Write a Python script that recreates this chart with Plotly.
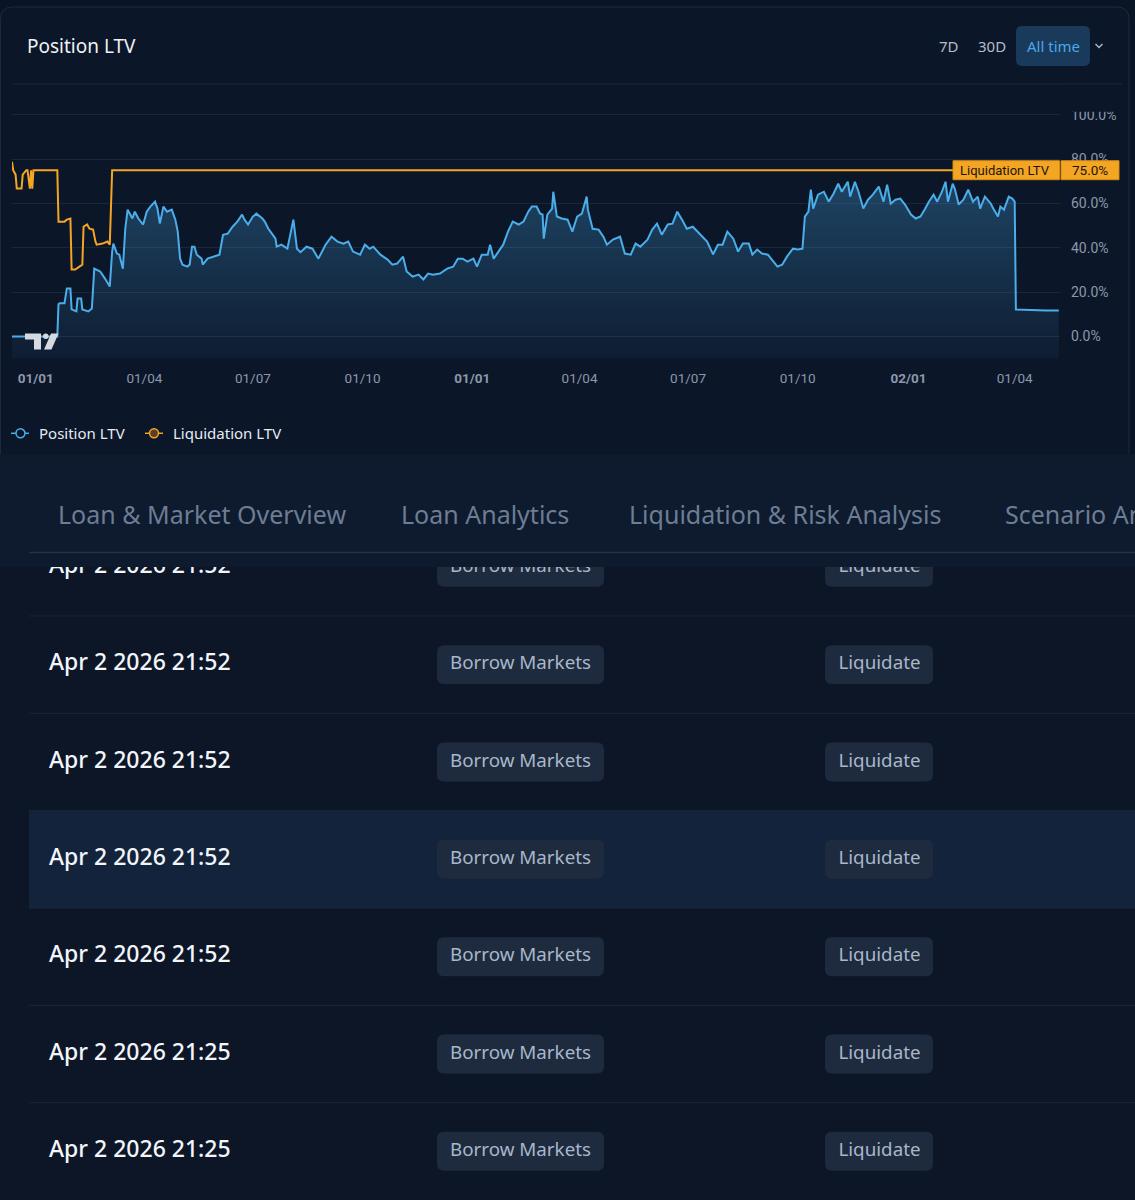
import plotly.graph_objects as go

W, H = 1135, 1200


def X(p):
    return p / W


def Y(p):
    return 1 - p / H


# ---------------- data ----------------
series_names = ["Position LTV", "Liquidation LTV"]

pos_dates = [
    "2023-12-12", "2024-01-19", "2024-01-20", "2024-01-21", "2024-01-25", "2024-01-27", "2024-01-30", "2024-01-31", "2024-02-04", "2024-02-05",
    "2024-02-08", "2024-02-09", "2024-02-14", "2024-02-17", "2024-02-19", "2024-02-24", "2024-02-28", "2024-03-03", "2024-03-05", "2024-03-06",
    "2024-03-09", "2024-03-11", "2024-03-14", "2024-03-16", "2024-03-18", "2024-03-22", "2024-03-24", "2024-03-27", "2024-03-31", "2024-04-03",
    "2024-04-06", "2024-04-10", "2024-04-12", "2024-04-14", "2024-04-17", "2024-04-20", "2024-04-24", "2024-04-27", "2024-04-29", "2024-05-01",
    "2024-05-03", "2024-05-07", "2024-05-09", "2024-05-11", "2024-05-13", "2024-05-15", "2024-05-19", "2024-05-20", "2024-05-24", "2024-05-29",
    "2024-06-03", "2024-06-06", "2024-06-10", "2024-06-14", "2024-06-18", "2024-06-22", "2024-06-24", "2024-06-27", "2024-07-01", "2024-07-04",
    "2024-07-09", "2024-07-11", "2024-07-14", "2024-07-17", "2024-07-20", "2024-07-21", "2024-07-25", "2024-07-30", "2024-08-04", "2024-08-07",
    "2024-08-10", "2024-08-15", "2024-08-20", "2024-08-25", "2024-08-31", "2024-09-05", "2024-09-10", "2024-09-15", "2024-09-19", "2024-09-23",
    "2024-09-29", "2024-10-03", "2024-10-07", "2024-10-10", "2024-10-16", "2024-10-22", "2024-10-26", "2024-10-30", "2024-11-04", "2024-11-07",
    "2024-11-12", "2024-11-17", "2024-11-21", "2024-11-25", "2024-11-29", "2024-12-05", "2024-12-11", "2024-12-16", "2024-12-20", "2024-12-24",
    "2024-12-28", "2025-01-02", "2025-01-05", "2025-01-09", "2025-01-14", "2025-01-16", "2025-01-19", "2025-01-23", "2025-01-27", "2025-01-31",
    "2025-02-04", "2025-02-09", "2025-02-13", "2025-02-17", "2025-02-20", "2025-02-24", "2025-02-27", "2025-03-01", "2025-03-02", "2025-03-05",
    "2025-03-09", "2025-03-10", "2025-03-13", "2025-03-17", "2025-03-22", "2025-03-26", "2025-03-30", "2025-04-03", "2025-04-07", "2025-04-08",
    "2025-04-12", "2025-04-17", "2025-04-21", "2025-04-24", "2025-04-29", "2025-05-05", "2025-05-09", "2025-05-14", "2025-05-18", "2025-05-22",
    "2025-05-28", "2025-06-01", "2025-06-05", "2025-06-09", "2025-06-14", "2025-06-18", "2025-06-22", "2025-06-26", "2025-06-30", "2025-07-05",
    "2025-07-11", "2025-07-17", "2025-07-22", "2025-07-26", "2025-07-30", "2025-08-03", "2025-08-08", "2025-08-12", "2025-08-16", "2025-08-21",
    "2025-08-24", "2025-08-28", "2025-09-01", "2025-09-06", "2025-09-10", "2025-09-14", "2025-09-18", "2025-09-22", "2025-09-27", "2025-10-01",
    "2025-10-05", "2025-10-07", "2025-10-10", "2025-10-12", "2025-10-14", "2025-10-18", "2025-10-23", "2025-10-27", "2025-10-31", "2025-11-04",
    "2025-11-07", "2025-11-12", "2025-11-14", "2025-11-18", "2025-11-21", "2025-11-25", "2025-11-29", "2025-12-03", "2025-12-08", "2025-12-12",
    "2025-12-15", "2025-12-18", "2025-12-22", "2025-12-26", "2025-12-30", "2026-01-04", "2026-01-08", "2026-01-12", "2026-01-16", "2026-01-19",
    "2026-01-23", "2026-01-26", "2026-01-30", "2026-02-02", "2026-02-04", "2026-02-08", "2026-02-10", "2026-02-13", "2026-02-17", "2026-02-21",
    "2026-02-25", "2026-03-01", "2026-03-03", "2026-03-07", "2026-03-12", "2026-03-14", "2026-03-18", "2026-03-20", "2026-03-23", "2026-03-27",
    "2026-03-30", "2026-04-01", "2026-04-02", "2026-04-14", "2026-04-27", "2026-05-08",
]
pos_ltv = [
    0.0, 0.0, 14.5, 15.0, 15.0, 21.6, 21.6, 12.2, 11.3, 17.1,
    17.1, 12.2, 11.3, 12.6, 30.6, 29.3, 26.1, 22.5, 38.3, 41.9,
    37.4, 36.9, 30.6, 48.6, 57.2, 53.2, 56.3, 53.2, 50.5, 56.3,
    58.6, 60.8, 57.7, 50.9, 58.6, 56.3, 57.2, 52.7, 47.3, 35.1,
    32.4, 31.5, 32.4, 40.5, 40.5, 36.9, 35.1, 32.4, 35.1, 36.0,
    36.9, 45.9, 46.4, 49.5, 51.8, 55.0, 52.7, 50.5, 54.1, 55.4,
    53.2, 51.8, 48.6, 46.4, 44.1, 40.5, 41.4, 39.6, 52.7, 39.6,
    38.0, 40.5, 39.6, 35.1, 41.4, 45.0, 42.8, 41.9, 42.8, 38.3,
    36.9, 41.4, 39.6, 40.5, 36.9, 34.7, 32.4, 32.9, 36.0, 29.3,
    27.0, 27.9, 25.7, 28.4, 27.9, 28.4, 30.6, 31.5, 35.1, 35.1,
    33.8, 35.1, 31.5, 36.9, 36.9, 41.4, 35.1, 38.3, 41.4, 47.3,
    51.8, 50.5, 51.8, 56.3, 58.6, 58.6, 55.4, 55.0, 44.1, 55.0,
    57.7, 65.3, 54.1, 53.2, 52.7, 47.3, 54.1, 55.4, 63.1, 57.2,
    48.6, 48.2, 45.0, 41.4, 43.7, 45.0, 37.4, 36.9, 41.9, 40.5,
    43.7, 48.2, 50.9, 45.9, 50.5, 50.9, 56.3, 52.7, 48.6, 49.5,
    45.9, 42.8, 37.0, 41.4, 41.4, 47.3, 44.1, 38.3, 41.9, 41.9,
    36.9, 39.2, 37.4, 36.9, 34.2, 31.5, 32.4, 36.0, 39.6, 39.2,
    39.6, 54.1, 56.3, 66.2, 57.7, 64.0, 65.3, 60.8, 64.4, 68.9,
    65.3, 69.8, 63.1, 69.8, 65.3, 57.7, 61.7, 64.0, 67.6, 60.8,
    68.5, 59.9, 61.7, 62.2, 59.5, 55.0, 53.2, 54.1, 57.7, 60.8,
    64.0, 60.8, 65.3, 69.8, 60.8, 68.9, 66.2, 59.5, 61.7, 66.2,
    60.8, 63.1, 57.7, 63.1, 59.9, 57.7, 54.1, 58.6, 57.2, 63.1,
    62.2, 60.8, 12.2, 11.9, 11.7, 11.7,
]

liq_dates = [
    "2023-12-12", "2023-12-13", "2023-12-15", "2023-12-16", "2023-12-20", "2023-12-21", "2023-12-24", "2023-12-25",
    "2023-12-27", "2023-12-28", "2023-12-29", "2023-12-30", "2024-01-19", "2024-01-20", "2024-01-25", "2024-01-27",
    "2024-01-30", "2024-01-31", "2024-02-03", "2024-02-07", "2024-02-09", "2024-02-10", "2024-02-13", "2024-02-15",
    "2024-02-18", "2024-02-20", "2024-02-21", "2024-02-26", "2024-03-01", "2024-03-03", "2024-03-05", "2026-05-08",
]
liq_ltv = [
    78.8, 75.0, 73.0, 66.7, 66.7, 73.0, 75.0, 75.0,
    66.7, 75.0, 66.7, 75.0, 75.0, 51.8, 51.8, 52.7,
    53.2, 30.2, 30.2, 31.5, 32.4, 49.5, 50.5, 48.6,
    48.2, 42.8, 41.4, 41.9, 42.8, 41.4, 75.0, 75.0,
]
liq_current = 75.0

x_tick_dates = ["2024-01-01", "2024-04-01", "2024-07-01", "2024-10-01", "2025-01-01",
                "2025-04-01", "2025-07-01", "2025-10-01", "2026-01-02", "2026-04-01"]
x_tick_labels = ["01/01", "01/04", "01/07", "01/10", "01/01", "01/04", "01/07", "01/10", "02/01", "01/04"]
x_tick_bold = [True, False, False, False, True, False, False, False, True, False]
y_ticks = [0, 20, 40, 60, 80, 100]

chart_title = "Position LTV"
range_buttons = ["7D", "30D", "All time"]
tabs = ["Loan & Market Overview", "Loan Analytics", "Liquidation & Risk Analysis", "Scenario Analysis"]
row_times = ["Apr 2 2026 21:52", "Apr 2 2026 21:52", "Apr 2 2026 21:52", "Apr 2 2026 21:52",
             "Apr 2 2026 21:52", "Apr 2 2026 21:25", "Apr 2 2026 21:25"]
row_markets = ["Borrow Markets"] * 7
row_actions = ["Liquidate"] * 7

# ---------------- style ----------------
BG_PAGE = "#0a1424"
BG_CARD = "#0b1629"
BG_TABS = "#0e1a2e"
BG_TABLE = "#0c1627"
BG_ROW_HI = "#13233b"
GRID = "#1a273b"
BLUE = "#4aaeea"
ORANGE = "#f5a524"
FONT = "Noto Sans"
AXFONT = "Roboto"
TABLE_TOP = 566


def rrect(x0, y0, x1, y1, r, paper=True):
    if paper:
        fx, fy = X, Y
    else:
        fx = fy = (lambda v: v)
    pts = [
        ("M", [(x0 + r, y0)]), ("L", [(x1 - r, y0)]), ("Q", [(x1, y0), (x1, y0 + r)]),
        ("L", [(x1, y1 - r)]), ("Q", [(x1, y1), (x1 - r, y1)]), ("L", [(x0 + r, y1)]),
        ("Q", [(x0, y1), (x0, y1 - r)]), ("L", [(x0, y0 + r)]), ("Q", [(x0, y0), (x0 + r, y0)]),
    ]
    s = ""
    for cmd, ps in pts:
        s += cmd + " " + " ".join(f"{fx(a):.6f},{fy(b):.6f}" for a, b in ps) + " "
    return s + "Z"


def poly(points):
    return "M " + " L ".join(f"{X(a):.6f},{Y(b):.6f}" for a, b in points) + " Z"


fig = go.Figure()

# baseline for gradient area
fig.add_trace(go.Scatter(x=[pos_dates[0], pos_dates[-1]], y=[-15, -15], mode="lines",
                         line=dict(width=0, color="rgba(0,0,0,0)"), hoverinfo="skip", showlegend=False))
fig.add_trace(go.Scatter(
    x=pos_dates, y=pos_ltv, name=series_names[0], mode="lines",
    line=dict(color=BLUE, width=2), fill="tonexty",
    fillgradient=dict(type="vertical",
                      colorscale=[[0, "rgba(74,174,234,0.03)"], [1, "rgba(74,174,234,0.30)"]]),
    hoverinfo="skip", showlegend=False))
fig.add_trace(go.Scatter(x=liq_dates, y=liq_ltv, name=series_names[1], mode="lines",
                         line=dict(color=ORANGE, width=2), hoverinfo="skip", showlegend=False))

# table texts (clipped subplot)
row_y = [566.25 + 97.5 * i for i in range(len(row_times))]
fig.add_trace(go.Scatter(x=[49] * len(row_times), y=row_y, text=row_times, mode="text",
                         textposition="middle right",
                         textfont=dict(family=FONT, size=23, color="#f2f5f9", weight=500),
                         xaxis="x2", yaxis="y2", cliponaxis=True, hoverinfo="skip", showlegend=False))
fig.add_trace(go.Scatter(x=[520.5] * len(row_markets), y=row_y, text=row_markets, mode="text",
                         textposition="middle center",
                         textfont=dict(family=FONT, size=18.8, color="#a8b7ca"),
                         xaxis="x2", yaxis="y2", cliponaxis=True, hoverinfo="skip", showlegend=False))
fig.add_trace(go.Scatter(x=[879.5] * len(row_actions), y=row_y, text=row_actions, mode="text",
                         textposition="middle center",
                         textfont=dict(family=FONT, size=18.8, color="#a8b7ca"),
                         xaxis="x2", yaxis="y2", cliponaxis=True, hoverinfo="skip", showlegend=False))

shapes = []
# backgrounds
shapes.append(dict(type="path", xref="paper", yref="paper", layer="below",
                   path=rrect(0.5, 5, 1129, 470, 12), fillcolor=BG_CARD,
                   line=dict(color="#1c2940", width=1)))
shapes.append(dict(type="rect", xref="paper", yref="paper", layer="below",
                   x0=0, x1=1, y0=Y(TABLE_TOP), y1=Y(453), fillcolor=BG_TABS, line=dict(width=0)))
shapes.append(dict(type="rect", xref="paper", yref="paper", layer="below",
                   x0=0, x1=1, y0=0, y1=Y(TABLE_TOP), fillcolor=BG_TABLE, line=dict(width=0)))
# header separator
shapes.append(dict(type="line", xref="paper", yref="paper", layer="below",
                   x0=X(12), x1=X(1122), y0=Y(82), y1=Y(82), line=dict(color=GRID, width=1)))
# All time button
shapes.append(dict(type="path", xref="paper", yref="paper", layer="below",
                   path=rrect(1016, 24, 1090, 64, 6), fillcolor="#1a3a5c", line=dict(width=0)))
# chevron
shapes.append(dict(type="path", xref="paper", yref="paper", layer="above",
                   path=f"M {X(1095.5)},{Y(42)} L {X(1099)},{Y(45.5)} L {X(1102.5)},{Y(42)}",
                   line=dict(color="#aab4c2", width=1.5)))
# hide top of 100% label (clipped pane)
shapes.append(dict(type="rect", xref="paper", yref="paper", layer="above",
                   x0=X(1061), x1=X(1128), y0=Y(110), y1=Y(84), fillcolor=BG_CARD, line=dict(width=0)))
# liquidation label boxes
shapes.append(dict(type="rect", xref="paper", yref="paper", layer="above",
                   x0=X(953), x1=X(1059.5), y0=Y(178), y1=Y(159), fillcolor=ORANGE,
                   line=dict(color="#d88c12", width=1)))
shapes.append(dict(type="rect", xref="paper", yref="paper", layer="above",
                   x0=X(1061), x1=X(1119), y0=Y(178), y1=Y(159), fillcolor=ORANGE,
                   line=dict(color="#d88c12", width=1)))
# tradingview logo
logo = "#d6dae0"
shapes.append(dict(type="path", xref="paper", yref="paper", layer="above",
                   path=poly([(25, 332), (41, 332), (41, 348), (34, 348), (34, 338), (25, 338)]),
                   fillcolor=logo, line=dict(width=0)))
shapes.append(dict(type="circle", xref="paper", yref="paper", layer="above",
                   x0=X(43), x1=X(48.5), y0=Y(337.5), y1=Y(332), fillcolor=logo, line=dict(width=0)))
shapes.append(dict(type="path", xref="paper", yref="paper", layer="above",
                   path=poly([(44, 348), (51.5, 348), (58.5, 332), (51, 332)]),
                   fillcolor=logo, line=dict(width=0)))
# legend markers
for (xa, xb, xc, col, fill) in [(11, 29, 20.5, BLUE, BG_CARD), (145, 163, 154, ORANGE, "#5a4020")]:
    shapes.append(dict(type="line", xref="paper", yref="paper", layer="above",
                       x0=X(xa), x1=X(xb), y0=Y(432), y1=Y(432), line=dict(color=col, width=1.5)))
    shapes.append(dict(type="circle", xref="paper", yref="paper", layer="above",
                       x0=X(xc - 4.5), x1=X(xc + 4.5), y0=Y(436.5), y1=Y(427.5), fillcolor=fill,
                       line=dict(color=col, width=1.5)))
# tab underline
shapes.append(dict(type="line", xref="paper", yref="paper", layer="below",
                   x0=X(29), x1=1, y0=Y(551.5), y1=Y(551.5), line=dict(color="#243247", width=1.5)))
# table rows
shapes.append(dict(type="rect", xref="x2", yref="y2", layer="below",
                   x0=29, x1=W, y0=810, y1=907.5, fillcolor=BG_ROW_HI, line=dict(width=0)))
for i in range(len(row_times)):
    yc = row_y[i]
    if i < len(row_times) - 1:
        shapes.append(dict(type="line", xref="x2", yref="y2", layer="below",
                           x0=29, x1=W, y0=yc + 48.75, y1=yc + 48.75, line=dict(color="#1a2638", width=1)))
    shapes.append(dict(type="path", xref="x2", yref="y2", layer="below",
                       path=rrect(437, yc - 19.5, 604, yc + 19.5, 7, paper=False),
                       fillcolor="#1e2a3e", line=dict(width=0)))
    shapes.append(dict(type="path", xref="x2", yref="y2", layer="below",
                       path=rrect(825, yc - 19.5, 933, yc + 19.5, 7, paper=False),
                       fillcolor="#1e2a3e", line=dict(width=0)))

ann = []
ann.append(dict(x=X(25), y=Y(44), xref="paper", yref="paper", text=chart_title, showarrow=False,
                xanchor="left", yanchor="middle", font=dict(family=FONT, size=19, color="#eef1f5")))
for txt, cx, col in zip(range_buttons, [948.5, 991.5, 1053], ["#b3bdcb", "#b3bdcb", "#4aa8e8"]):
    ann.append(dict(x=X(cx), y=Y(44), xref="paper", yref="paper", text=txt, showarrow=False,
                    xanchor="center", yanchor="middle", font=dict(family=FONT, size=15, color=col)))
ann.append(dict(x=X(958), y=liq_current, xref="paper", yref="y", text=series_names[1], showarrow=False,
                xanchor="left", yanchor="middle", font=dict(family=AXFONT, size=13, color="#1c1606")))
ann.append(dict(x=X(1090), y=liq_current, xref="paper", yref="y", text=f"{liq_current:.1f}%", showarrow=False,
                xanchor="center", yanchor="middle", font=dict(family=AXFONT, size=13.5, color="#1c1606")))
for txt, lx in zip(series_names, [37, 171]):
    ann.append(dict(x=X(lx), y=Y(432), xref="paper", yref="paper", text=txt, showarrow=False,
                    xanchor="left", yanchor="middle", font=dict(family=FONT, size=15, color="#e6ebf1")))
for txt, tx in zip(tabs, [56, 399, 627, 1003]):
    ann.append(dict(x=X(tx), y=Y(513), xref="paper", yref="paper", text=txt, showarrow=False,
                    xanchor="left", yanchor="middle", font=dict(family=FONT, size=25, color="#6c7d94")))

tick_text = [f"<b>{t}</b>" if b else t for t, b in zip(x_tick_labels, x_tick_bold)]

fig.update_layout(
    width=W, height=H, margin=dict(l=0, r=0, t=0, b=0),
    paper_bgcolor=BG_PAGE, plot_bgcolor="rgba(0,0,0,0)", showlegend=False,
    font=dict(family=FONT),
    xaxis=dict(type="date", domain=[X(12), X(1060)], range=["2023-12-12", "2026-05-09"],
               showgrid=False, zeroline=False, showline=False, ticks="",
               tickvals=x_tick_dates, ticktext=tick_text, ticklabelstandoff=10,
               tickfont=dict(family=AXFONT, size=13.5, color="#8d98aa"), fixedrange=True, anchor="y"),
    yaxis=dict(domain=[Y(357), Y(107)], range=[-9.9, 102.7], side="right",
               showgrid=True, gridcolor=GRID, gridwidth=1, zeroline=False, showline=False, ticks="",
               tickvals=y_ticks, ticktext=[f"{v:.1f}%" for v in y_ticks], ticklabelstandoff=10,
               tickfont=dict(family=AXFONT, size=14, color="#8d98aa"), fixedrange=True, anchor="x"),
    xaxis2=dict(domain=[0, 1], range=[0, W], visible=False, anchor="y2", fixedrange=True),
    yaxis2=dict(domain=[0, Y(TABLE_TOP)], range=[H, TABLE_TOP], visible=False, anchor="x2", fixedrange=True),
    shapes=shapes, annotations=ann,
)

fig.write_html("out.html")
